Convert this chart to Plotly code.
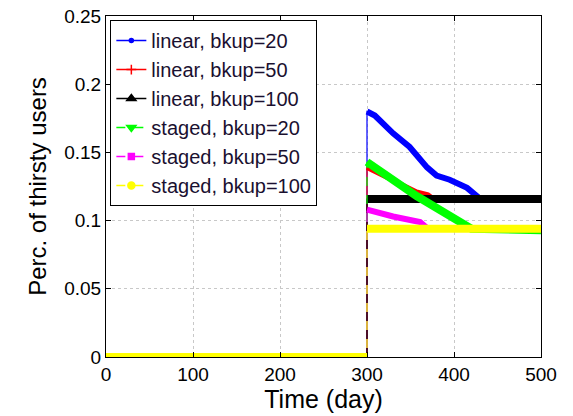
import plotly.graph_objects as go

# ---- data ----
days_lin20 = [0, 300, 300, 309, 330, 349, 369, 380, 395, 415, 430, 500]
lin20 = [0, 0, 0.180, 0.177, 0.164, 0.154, 0.139, 0.133, 0.130, 0.124, 0.116, 0.116]

days_lin50 = [0, 300, 300, 357, 370, 376, 500]
lin50 = [0, 0, 0.139, 0.121, 0.119, 0.116, 0.116]

days_lin100 = [0, 300, 300, 500]
lin100 = [0, 0, 0.1158, 0.1158]

days_stg20 = [0, 300, 300, 357, 420, 500]
stg20 = [0, 0, 0.143, 0.118, 0.094, 0.093]

days_stg50 = [0, 300, 300, 330, 361, 370, 500]
stg50 = [0, 0, 0.108, 0.103, 0.099, 0.094, 0.094]

days_stg100 = [0, 300, 300, 500]
stg100 = [0, 0, 0.094, 0.094]

x_ticks = [0, 100, 200, 300, 400, 500]
y_ticks = [0, 0.05, 0.1, 0.15, 0.2, 0.25]
y_tick_labels = ["0", "0.05", "0.1", "0.15", "0.2", "0.25"]

series = [
    ("linear, bkup=20", days_lin20, lin20, "#0000ff", "solid", "circle", 4, 6),
    ("linear, bkup=50", days_lin50, lin50, "#ff0000", "solid", "cross-thin-open", 7, 5),
    ("linear, bkup=100", days_lin100, lin100, "#000000", "solid", "triangle-up", 8, 8),
    ("staged, bkup=20", days_stg20, stg20, "#00ff00", "dash", "triangle-down", 8, 8),
    ("staged, bkup=50", days_stg50, stg50, "#ff00ff", "dash", "square", 6, 6),
    ("staged, bkup=100", days_stg100, stg100, "#ffff00", "dash", "circle", 7, 8),
]

fig = go.Figure()

for name, xs, ys, color, dash, sym, msize, width in series:
    # thin connecting line (shows the jump at day 300)
    fig.add_trace(go.Scatter(x=xs, y=ys, mode="lines",
                             line=dict(color=color, width=1.2, dash=dash),
                             showlegend=False, hoverinfo="skip"))
    # thick band for the dense-marker look, broken at the vertical jump
    tx, ty = [], []
    for i, (a, b) in enumerate(zip(xs, ys)):
        if i > 0 and a == xs[i - 1] and b != ys[i - 1]:
            tx.append(None)
            ty.append(None)
        tx.append(a)
        ty.append(b)
    fig.add_trace(go.Scatter(x=tx, y=ty, mode="lines",
                             line=dict(color=color, width=width),
                             showlegend=False, connectgaps=False))

for name, xs, ys, color, dash, sym, msize, width in series:
    fig.add_trace(go.Scatter(x=[None], y=[None], mode="lines+markers", name=name,
                             line=dict(color=color, width=1.5, dash=dash),
                             marker=dict(color=color, symbol=sym, size=msize,
                                         line=dict(color=color, width=1.5))))

FONT = "Liberation Sans, Arial, sans-serif"
axis_common = dict(showline=True, linecolor="black", linewidth=1, mirror="allticks",
                   ticks="inside", ticklen=5, tickcolor="black",
                   showgrid=True, gridcolor="#c8c8c8", griddash="dot", gridwidth=1,
                   zeroline=False, automargin=False,
                   tickfont=dict(family=FONT, size=19, color="black"))

fig.update_layout(
    width=573, height=416,
    margin=dict(l=106, r=32, t=16, b=59),
    paper_bgcolor="white", plot_bgcolor="white",
    font=dict(family=FONT, color="black"),
    xaxis=dict(range=[0, 500], tickvals=x_ticks,
               title=dict(text="Time (day)", font=dict(size=25), standoff=0),
               **axis_common),
    yaxis=dict(range=[0, 0.25], tickvals=y_ticks, ticktext=y_tick_labels,
               title=dict(text="Perc. of thirsty users", font=dict(size=24), standoff=10),
               **axis_common),
    legend=dict(x=0.01, y=0.988, xanchor="left", yanchor="top",
                bgcolor="white", bordercolor="black", borderwidth=1,
                font=dict(size=20, color="#1a1030"), tracegroupgap=0,
                itemwidth=30),
    showlegend=True,
)

# remove the default 8px page margin so the figure fills the 573x416 window
fig.write_html("out.html",
               config={"displayModeBar": False},
               post_script="document.body.style.margin='0px';document.body.style.overflow='hidden';")
